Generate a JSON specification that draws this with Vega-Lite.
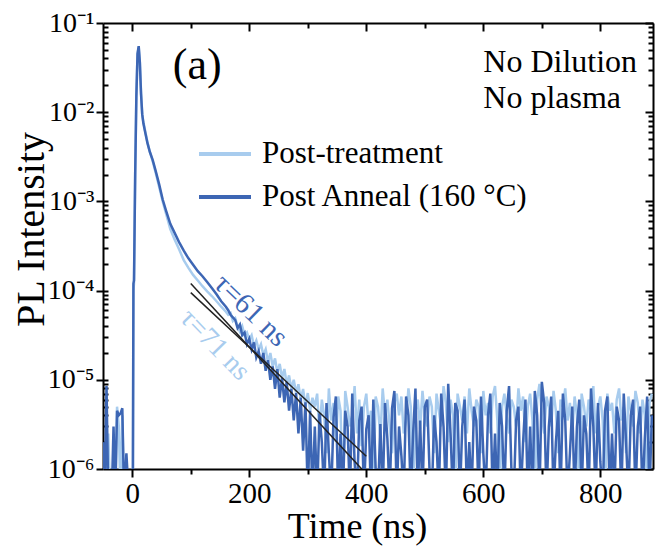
{
"$schema": "https://vega.github.io/schema/vega-lite/v6.json",
"width": 550, "height": 446,
"autosize": {"type": "none"},
"padding": {"left": 103, "top": 23, "right": 3, "bottom": 81},
"background": "white",
"config": {"font": "Liberation Serif", "view": {"stroke": null},
  "axis": {"domainColor": "black", "domainWidth": 2, "tickColor": "black", "tickWidth": 2, "grid": false, "labelColor": "black", "titleColor": "black", "titleFontWeight": "normal", "labelFont": "Liberation Serif", "titleFont": "Liberation Serif"}},
"datasets": {
"pl": [
{"t":-50,"a":5e-7,"b":2e-6},{"t":-47,"a":1.5e-6,"b":5e-7},{"t":-44,"a":5e-7,"b":8.5e-6},{"t":-41,"a":2.5e-6,"b":5e-7},
{"t":-38,"a":5e-7,"b":5e-7},{"t":-35,"a":1e-6,"b":5e-7},{"t":-32,"a":5e-7,"b":3e-6},{"t":-29,"a":5e-7,"b":5e-7},
{"t":-26,"a":5e-6,"b":4.5e-6},{"t":-23,"a":3e-6,"b":4e-6},{"t":-20,"a":5e-7,"b":4.2e-6},{"t":-17,"a":4e-6,"b":4.8e-6},
{"t":-14,"a":5e-7,"b":5e-7},{"t":-10,"a":5e-7,"b":1.5e-6},{"t":-6,"a":5e-7,"b":5e-7},{"t":-2,"a":5e-7,"b":5e-7},
{"t":1,"a":5e-7,"b":5e-7},{"t":2,"a":1e-4,"b":1.2e-4},{"t":3,"a":1.2e-4,"b":1.3e-4},{"t":5,"a":2e-3,"b":2e-3},
{"t":7,"a":1.5e-2,"b":1.5e-2},{"t":9,"a":4.5e-2,"b":4.5e-2},{"t":11,"a":5.4e-2,"b":5.5e-2},{"t":13,"a":3.6e-2,"b":3.6e-2},
{"t":15,"a":1.7e-2,"b":1.6e-2},{"t":17,"a":9.5e-3,"b":9.5e-3},{"t":19,"a":7.8e-3,"b":7.5e-3},{"t":22,"a":6.2e-3,"b":6.0e-3},
{"t":26,"a":4.6e-3,"b":4.5e-3},{"t":30,"a":3.6e-3,"b":3.6e-3},{"t":35,"a":2.8e-3,"b":2.9e-3},{"t":40,"a":2.1e-3,"b":2.2e-3},
{"t":46,"a":1.45e-3,"b":1.55e-3},{"t":52,"a":1.0e-3,"b":1.05e-3},{"t":58,"a":7.2e-4,"b":7.8e-4},{"t":65,"a":4.9e-4,"b":5.6e-4},
{"t":72,"a":3.8e-4,"b":4.5e-4},{"t":80,"a":2.9e-4,"b":3.5e-4},{"t":88,"a":2.2e-4,"b":2.8e-4},{"t":96,"a":1.8e-4,"b":2.3e-4},
{"t":104,"a":1.5e-4,"b":1.95e-4},{"t":112,"a":1.3e-4,"b":1.65e-4},{"t":120,"a":1.12e-4,"b":1.45e-4},{"t":128,"a":9.8e-5,"b":1.25e-4},
{"t":136,"a":8.7e-5,"b":1.07e-4},{"t":144,"a":7.6e-5,"b":9.1e-5},{"t":152,"a":6.6e-5,"b":7.6e-5},{"t":160,"a":5.8e-5,"b":6.6e-5},
{"t":164,"a":5.37e-5,"b":6.03e-5},{"t":168,"a":5.6e-5,"b":5.37e-5},{"t":172,"a":4.57e-5,"b":5.0e-5},{"t":176,"a":4.9e-5,"b":4.68e-5},
{"t":180,"a":3.98e-5,"b":3.8e-5},{"t":184,"a":3.47e-5,"b":4.17e-5},{"t":188,"a":3.98e-5,"b":3.16e-5},{"t":192,"a":3.16e-5,"b":3.39e-5},
{"t":196,"a":3.39e-5,"b":2.51e-5},{"t":200,"a":2.82e-5,"b":2.88e-5},{"t":204,"a":3.16e-5,"b":2.19e-5},{"t":208,"a":2.4e-5,"b":2.63e-5},
{"t":212,"a":2.75e-5,"b":1.78e-5},{"t":216,"a":2.19e-5,"b":2.09e-5},{"t":220,"a":2.51e-5,"b":1.51e-5},{"t":224,"a":1.9e-5,"b":2.0e-5},
{"t":228,"a":2.19e-5,"b":1.26e-5},{"t":232,"a":1.58e-5,"b":1.66e-5},{"t":236,"a":2.0e-5,"b":1.0e-5},{"t":240,"a":1.41e-5,"b":1.41e-5},
{"t":244,"a":1.74e-5,"b":7.9e-6},{"t":248,"a":1.2e-5,"b":1.32e-5},{"t":252,"a":1.51e-5,"b":6.3e-6},{"t":256,"a":1.05e-5,"b":1.05e-5},
{"t":260,"a":1.32e-5,"b":5.6e-6},{"t":264,"a":8.9e-6,"b":9.5e-6},{"t":268,"a":1.12e-5,"b":4.5e-6},{"t":272,"a":7.9e-6,"b":7.9e-6},
{"t":276,"a":1.0e-5,"b":3.5e-6},{"t":280,"a":7.1e-6,"b":7.1e-6},{"t":284,"a":8.9e-6,"b":2.5e-6},{"t":288,"a":6.0e-6,"b":6.3e-6},
{"t":292,"a":7.9e-6,"b":1.6e-6},{"t":296,"a":5.0e-6,"b":5.6e-6},{"t":300,"a":7.1e-6,"b":5e-7},{"t":304,"a":4.5e-6,"b":4.5e-6},
{"t":308,"a":6.3e-6,"b":5e-7},
{"t":312,"a":5.0e-6,"b":3.0e-6},{"t":316,"a":7.0e-6,"b":5e-7},{"t":320,"a":2.5e-6,"b":4.2e-6},{"t":324,"a":6.0e-6,"b":2.0e-6},
{"t":328,"a":4.0e-6,"b":5e-7},{"t":332,"a":1.5e-6,"b":5.5e-6},{"t":336,"a":8.0e-6,"b":1.5e-6},{"t":340,"a":3.5e-6,"b":5e-7},
{"t":344,"a":5.5e-6,"b":3.8e-6},{"t":348,"a":2.0e-6,"b":6.5e-6},{"t":352,"a":6.5e-6,"b":5e-7},{"t":356,"a":4.5e-6,"b":2.5e-6},
{"t":360,"a":5e-7,"b":5e-7},{"t":364,"a":7.5e-6,"b":4.5e-6},{"t":368,"a":5.0e-6,"b":3.0e-6},{"t":372,"a":3.0e-6,"b":5e-7},
{"t":376,"a":4.0e-6,"b":7.0e-6},{"t":380,"a":8.5e-6,"b":1.2e-6},{"t":384,"a":2.5e-6,"b":5e-7},{"t":388,"a":6.0e-6,"b":3.5e-6},
{"t":392,"a":1.8e-6,"b":5.0e-6},{"t":396,"a":5.0e-6,"b":5e-7},{"t":400,"a":7.0e-6,"b":2.8e-6},{"t":404,"a":3.0e-6,"b":4.0e-6},
{"t":408,"a":4.5e-6,"b":5e-7},{"t":412,"a":5e-7,"b":6.0e-6},{"t":416,"a":6.5e-6,"b":1.0e-6},{"t":420,"a":5.0e-6,"b":5e-7},
{"t":424,"a":2.2e-6,"b":3.2e-6},{"t":428,"a":8.0e-6,"b":5e-7},{"t":432,"a":4.0e-6,"b":5.5e-6},{"t":436,"a":6.0e-6,"b":2.2e-6},
{"t":440,"a":3.0e-6,"b":5e-7},{"t":444,"a":1.5e-6,"b":4.8e-6},{"t":448,"a":5.5e-6,"b":7.5e-6},{"t":452,"a":7.0e-6,"b":5e-7},
{"t":456,"a":4.0e-6,"b":3.0e-6},{"t":460,"a":6.5e-6,"b":1.4e-6},{"t":464,"a":2.5e-6,"b":5e-7},{"t":468,"a":3.5e-6,"b":6.5e-6},
{"t":472,"a":8.0e-6,"b":4.0e-6},{"t":476,"a":5.0e-6,"b":5e-7},{"t":480,"a":5e-7,"b":2.5e-6},{"t":484,"a":4.5e-6,"b":8.0e-6},
{"t":488,"a":6.0e-6,"b":5e-7},{"t":492,"a":2.8e-6,"b":3.5e-6},{"t":496,"a":7.5e-6,"b":5e-7},{"t":500,"a":4.0e-6,"b":5.0e-6},
{"t":504,"a":3.0e-6,"b":6.0e-6},{"t":508,"a":6.5e-6,"b":1.0e-6},{"t":512,"a":5.0e-6,"b":5e-7},{"t":516,"a":1.5e-6,"b":4.0e-6},
{"t":520,"a":7.0e-6,"b":2.0e-6},{"t":524,"a":4.5e-6,"b":5e-7},{"t":528,"a":3.0e-6,"b":7.0e-6},{"t":532,"a":8.5e-6,"b":3.0e-6},
{"t":536,"a":5.5e-6,"b":5e-7},{"t":540,"a":2.0e-6,"b":9.0e-6},{"t":544,"a":6.0e-6,"b":2.5e-6},{"t":548,"a":4.0e-6,"b":5e-7},
{"t":552,"a":5e-7,"b":5.5e-6},{"t":556,"a":7.0e-6,"b":4.5e-6},{"t":560,"a":5.0e-6,"b":5e-7},{"t":564,"a":3.5e-6,"b":3.0e-6},
{"t":568,"a":6.5e-6,"b":6.0e-6},{"t":572,"a":2.5e-6,"b":5e-7},{"t":576,"a":8.0e-6,"b":2.0e-6},{"t":580,"a":4.5e-6,"b":5e-7},
{"t":584,"a":3.0e-6,"b":5.0e-6},{"t":588,"a":6.0e-6,"b":3.5e-6},{"t":592,"a":5.0e-6,"b":5e-7},{"t":596,"a":1.5e-6,"b":6.5e-6},
{"t":600,"a":7.5e-6,"b":1.5e-6},{"t":604,"a":4.0e-6,"b":5e-7},{"t":608,"a":5.5e-6,"b":4.0e-6},{"t":612,"a":2.5e-6,"b":7.0e-6},
{"t":616,"a":6.5e-6,"b":5e-7},{"t":620,"a":8.5e-6,"b":2.5e-6},{"t":624,"a":3.5e-6,"b":5e-7},{"t":628,"a":5e-7,"b":5.5e-6},
{"t":632,"a":5.0e-6,"b":3.0e-6},{"t":636,"a":7.0e-6,"b":5e-7},{"t":640,"a":4.0e-6,"b":4.5e-6},{"t":644,"a":2.5e-6,"b":8.5e-6},
{"t":648,"a":6.0e-6,"b":1.0e-6},{"t":652,"a":5.0e-6,"b":5e-7},{"t":656,"a":3.0e-6,"b":3.5e-6},{"t":660,"a":8.0e-6,"b":5.0e-6},
{"t":664,"a":4.5e-6,"b":5e-7},{"t":668,"a":6.5e-6,"b":2.0e-6},{"t":672,"a":2.0e-6,"b":6.0e-6},{"t":676,"a":5.0e-6,"b":5e-7},
{"t":680,"a":7.0e-6,"b":3.0e-6},{"t":684,"a":3.5e-6,"b":5e-7},{"t":688,"a":5e-7,"b":7.5e-6},{"t":692,"a":6.0e-6,"b":4.0e-6},
{"t":696,"a":9.0e-6,"b":5e-7},{"t":700,"a":4.0e-6,"b":9.5e-6},{"t":704,"a":2.5e-6,"b":5.5e-6},{"t":708,"a":6.5e-6,"b":5e-7},
{"t":712,"a":5.0e-6,"b":3.0e-6},{"t":716,"a":3.0e-6,"b":6.5e-6},{"t":720,"a":7.5e-6,"b":5e-7},{"t":724,"a":4.5e-6,"b":2.0e-6},
{"t":728,"a":1.5e-6,"b":4.5e-6},{"t":732,"a":6.0e-6,"b":5e-7},{"t":736,"a":5.0e-6,"b":7.0e-6},{"t":740,"a":8.0e-6,"b":3.5e-6},
{"t":744,"a":3.5e-6,"b":5e-7},{"t":748,"a":5.5e-6,"b":1.5e-6},{"t":752,"a":2.5e-6,"b":5.0e-6},{"t":756,"a":6.5e-6,"b":5e-7},
{"t":760,"a":4.0e-6,"b":3.0e-6},{"t":764,"a":5e-7,"b":6.0e-6},{"t":768,"a":7.0e-6,"b":5e-7},{"t":772,"a":5.0e-6,"b":4.0e-6},
{"t":776,"a":3.0e-6,"b":2.5e-6},{"t":780,"a":6.0e-6,"b":5e-7},{"t":784,"a":4.5e-6,"b":8.0e-6},{"t":788,"a":8.5e-6,"b":3.0e-6},
{"t":792,"a":2.5e-6,"b":5e-7},{"t":796,"a":5.0e-6,"b":5.5e-6},{"t":800,"a":6.5e-6,"b":1.2e-6},{"t":804,"a":3.5e-6,"b":5e-7},
{"t":808,"a":5e-7,"b":4.5e-6},{"t":812,"a":7.0e-6,"b":6.5e-6},{"t":816,"a":4.5e-6,"b":5e-7},{"t":820,"a":5.5e-6,"b":2.5e-6},
{"t":824,"a":2.5e-6,"b":5e-7},{"t":828,"a":6.0e-6,"b":5.0e-6},{"t":832,"a":8.0e-6,"b":3.5e-6},{"t":836,"a":3.5e-6,"b":5e-7},
{"t":840,"a":5.0e-6,"b":7.0e-6},{"t":844,"a":1.5e-6,"b":2.0e-6},{"t":848,"a":6.5e-6,"b":5e-7},{"t":852,"a":4.5e-6,"b":4.0e-6},
{"t":856,"a":3.0e-6,"b":6.0e-6},{"t":860,"a":7.5e-6,"b":5e-7},{"t":864,"a":5.5e-6,"b":3.0e-6},{"t":868,"a":2.5e-6,"b":5.0e-6},
{"t":872,"a":6.0e-6,"b":5e-7},{"t":876,"a":4.0e-6,"b":2.2e-6},{"t":880,"a":5e-7,"b":6.5e-6},{"t":884,"a":5.5e-6,"b":5e-7},
{"t":888,"a":7.0e-6,"b":4.0e-6}
],
"fits": [
{"fit":"61","t":100,"v":1.2e-4},{"fit":"61","t":400,"v":8.8e-7},
{"fit":"71","t":100,"v":9.5e-5},{"fit":"71","t":400,"v":1.39e-6}
]
},
"resolve": {"axis": {"x": "independent", "y": "independent"}},
"layer": [
{
 "data": {"name": "pl"},
 "transform": [{"fold": ["a", "b"], "as": ["series", "v"]}],
 "mark": {"type": "line", "clip": true, "strokeWidth": 2.5},
 "encoding": {
  "x": {"field": "t", "type": "quantitative", "scale": {"domain": [-50, 890], "nice": false, "zero": false},
    "axis": {"orient": "bottom", "values": [0, 200, 400, 600, 800], "tickSize": 8, "labelFontSize": 29, "labelPadding": 2, "labelFlush": false,
      "title": "Time (ns)", "titleFontSize": 36, "titleX": 254, "titleY": 68, "titleAlign": "center", "titleBaseline": "alphabetic"}},
  "y": {"field": "v", "type": "quantitative", "scale": {"type": "log", "domain": [1e-6, 0.1], "nice": false},
    "axis": {"orient": "left", "values": [1e-6, 1e-5, 1e-4, 1e-3, 1e-2, 1e-1], "tickSize": 7, "labelFontSize": 28, "labelPadding": 2,
      "labelExpr": "'10⁻' + ['⁰','¹','²','³','⁴','⁵','⁶'][-round(log(datum.value)/LN10)]",
      "title": "PL Intensity", "titleFontSize": 40, "titleX": -60, "titleY": 206, "titleAlign": "center", "titleBaseline": "alphabetic", "titleAngle": -90}},
  "color": {"field": "series", "type": "nominal", "scale": {"domain": ["a", "b"], "range": ["#a8ccee", "#3d66b4"]},
    "legend": {"orient": "none", "legendX": 94, "legendY": 103, "title": null, "symbolType": "stroke", "symbolSize": 2704, "symbolStrokeWidth": 4,
      "labelFontSize": 31, "labelOffset": 9, "rowPadding": -4, "padding": 0, "labelLimit": 400, "labelColor": "black", "labelFont": "Liberation Serif",
      "labelExpr": "datum.label == 'a' ? 'Post-treatment' : 'Post Anneal (160 °C)'"}}
 }
},
{
 "data": {"name": "fits"},
 "mark": {"type": "line", "clip": true, "color": "#222222", "strokeWidth": 1.5},
 "encoding": {
  "x": {"field": "t", "type": "quantitative", "scale": {"domain": [-50, 890], "nice": false, "zero": false},
    "axis": {"orient": "top", "values": [0, 200, 400, 600, 800], "tickSize": -8, "labels": false, "title": null}},
  "y": {"field": "v", "type": "quantitative", "scale": {"type": "log", "domain": [1e-6, 0.1], "nice": false},
    "axis": {"orient": "right", "values": [1e-6, 1e-5, 1e-4, 1e-3, 1e-2, 1e-1], "tickSize": -8, "labels": false, "title": null}},
  "detail": {"field": "fit", "type": "nominal"}
 }
},
{
 "data": {"values": [{}]},
 "mark": {"type": "text", "text": "(a)", "fontSize": 44, "align": "center", "baseline": "alphabetic", "color": "black"},
 "encoding": {
  "x": {"datum": 111, "type": "quantitative", "scale": {"domain": [-50, 890], "nice": false, "zero": false},
    "axis": {"orient": "bottom", "values": [100, 300, 500, 700], "tickSize": 5, "labels": false, "domain": false, "title": null}},
  "y": {"datum": 0.0235, "type": "quantitative", "scale": {"type": "log", "domain": [1e-6, 0.1], "nice": false},
    "axis": {"orient": "left", "tickSize": -5, "labels": false, "domain": false, "title": null,
      "values": [2e-6,3e-6,4e-6,5e-6,6e-6,7e-6,8e-6,9e-6,1e-5,2e-5,3e-5,4e-5,5e-5,6e-5,7e-5,8e-5,9e-5,1e-4,2e-4,3e-4,4e-4,5e-4,6e-4,7e-4,8e-4,9e-4,1e-3,2e-3,3e-3,4e-3,5e-3,6e-3,7e-3,8e-3,9e-3,1e-2,2e-2,3e-2,4e-2,5e-2,6e-2,7e-2,8e-2,9e-2]}}
 }
},
{
 "data": {"values": [{}]},
 "mark": {"type": "text", "text": "No Dilution", "fontSize": 32, "align": "left", "baseline": "alphabetic", "color": "black"},
 "encoding": {
  "x": {"datum": 600, "type": "quantitative", "scale": {"domain": [-50, 890], "nice": false, "zero": false},
    "axis": {"orient": "top", "values": [100, 300, 500, 700], "tickSize": -5, "labels": false, "domain": false, "title": null}},
  "y": {"datum": 0.0282, "type": "quantitative", "scale": {"type": "log", "domain": [1e-6, 0.1], "nice": false},
    "axis": {"orient": "right", "tickSize": -5, "labels": false, "domain": false, "title": null,
      "values": [2e-6,3e-6,4e-6,5e-6,6e-6,7e-6,8e-6,9e-6,2e-5,3e-5,4e-5,5e-5,6e-5,7e-5,8e-5,9e-5,2e-4,3e-4,4e-4,5e-4,6e-4,7e-4,8e-4,9e-4,2e-3,3e-3,4e-3,5e-3,6e-3,7e-3,8e-3,9e-3,2e-2,3e-2,4e-2,5e-2,6e-2,7e-2,8e-2,9e-2]}}
 }
},
{
 "data": {"values": [{}]},
 "mark": {"type": "text", "text": "No plasma", "fontSize": 32, "align": "left", "baseline": "alphabetic", "color": "black"},
 "encoding": {
  "x": {"datum": 600, "type": "quantitative", "scale": {"domain": [-50, 890], "nice": false, "zero": false}, "axis": null},
  "y": {"datum": 0.01114, "type": "quantitative", "scale": {"type": "log", "domain": [1e-6, 0.1], "nice": false}, "axis": null}
 }
},
{
 "data": {"values": [{}]},
 "mark": {"type": "text", "text": "τ=61 ns", "fontSize": 29, "align": "center", "baseline": "middle", "angle": 44, "color": "#3d66b4"},
 "encoding": {
  "x": {"datum": 203, "type": "quantitative", "scale": {"domain": [-50, 890], "nice": false, "zero": false}, "axis": null},
  "y": {"datum": 6.0e-5, "type": "quantitative", "scale": {"type": "log", "domain": [1e-6, 0.1], "nice": false}, "axis": null}
 }
},
{
 "data": {"values": [{}]},
 "mark": {"type": "text", "text": "τ=71 ns", "fontSize": 28, "align": "center", "baseline": "middle", "angle": 46, "color": "#a8ccee"},
 "encoding": {
  "x": {"datum": 141, "type": "quantitative", "scale": {"domain": [-50, 890], "nice": false, "zero": false}, "axis": null},
  "y": {"datum": 2.45e-5, "type": "quantitative", "scale": {"type": "log", "domain": [1e-6, 0.1], "nice": false}, "axis": null}
 }
}
]
}
